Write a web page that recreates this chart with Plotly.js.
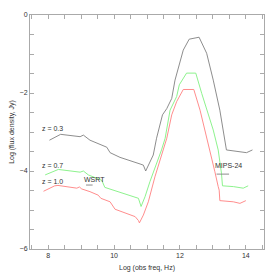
<!DOCTYPE html>
<html>
<head>
<meta charset="utf-8">
<script src="https://cdn.plot.ly/plotly-3.0.1.min.js"></script>
<style>html,body{margin:0;padding:0;background:#fff;}#chart{width:279px;height:279px;}</style>
</head>
<body>
<div id="chart"></div>
<script>
// z = 0.3 (black)
const x03 = [8.04, 8.38, 8.97, 9.07, 9.27, 9.78, 9.88, 10.18, 10.79, 10.89, 10.96, 11.19, 11.29, 11.47, 11.6, 11.75, 11.85, 12.1, 12.28, 12.58, 12.81, 13.01, 13.21, 13.41, 14.02, 14.2];
const y03 = [-3.21, -3.06, -3.12, -3.08, -3.21, -3.39, -3.53, -3.65, -3.82, -3.85, -4.0, -3.59, -3.16, -2.56, -2.4, -2.14, -1.67, -0.9, -0.62, -0.57, -0.98, -1.67, -2.44, -3.46, -3.53, -3.46];
// z = 0.7 (green)
const x07 = [7.91, 8.31, 8.97, 9.07, 9.22, 9.63, 9.72, 10.18, 10.74, 10.82, 10.94, 11.09, 11.34, 11.44, 11.55, 11.7, 11.9, 11.98, 12.2, 12.48, 12.66, 12.81, 13.01, 13.16, 13.26, 13.29, 13.62, 13.92, 14.07];
const y07 = [-4.10, -3.96, -4.03, -4.0, -4.10, -4.24, -4.42, -4.55, -4.70, -4.91, -4.66, -4.27, -3.72, -3.46, -3.16, -2.44, -2.09, -1.79, -1.49, -1.49, -2.01, -2.44, -2.95, -3.46, -4.06, -4.38, -4.40, -4.44, -4.38];
// z = 1.0 (red)
const x10 = [7.86, 8.2, 8.3, 8.87, 8.95, 9.02, 9.27, 9.52, 9.6, 9.88, 10.03, 10.58, 10.64, 10.74, 10.77, 10.89, 11.04, 11.24, 11.44, 11.6, 11.75, 11.9, 12.1, 12.42, 12.61, 12.76, 12.91, 13.06, 13.16, 13.19, 13.21, 13.62, 13.82, 14.0];
const y10 = [-4.52, -4.38, -4.37, -4.44, -4.41, -4.46, -4.53, -4.62, -4.70, -4.79, -4.98, -5.15, -5.17, -5.27, -5.33, -5.13, -4.79, -4.15, -3.63, -3.16, -2.56, -2.22, -1.91, -1.91, -2.44, -2.95, -3.46, -4.02, -4.40, -4.49, -4.76, -4.79, -4.83, -4.76];
// survey limits
const wsrtX = [9.15, 9.35];
const wsrtY = [-4.36, -4.36];
const mipsX = [13.11, 13.49];
const mipsY = [-4.08, -4.08];
// labels
const labelText = ["z = 0.3", "z = 0.7", "z = 1.0", "WSRT", "MIPS-24"];
const labelX = [8.12, 8.13, 8.13, 9.41, 13.48];
const labelY = [-2.92, -3.86, -4.27, -4.21, -3.86];

const lineStyle = (c) => ({color: c, width: 0.9});
const traces = [
  {x: x03, y: y03, mode: 'lines', line: lineStyle('#808080'), hoverinfo: 'skip'},
  {x: x07, y: y07, mode: 'lines', line: lineStyle('#80f080'), hoverinfo: 'skip'},
  {x: x10, y: y10, mode: 'lines', line: lineStyle('#ff8080'), hoverinfo: 'skip'},
  {x: wsrtX, y: wsrtY, mode: 'lines', line: lineStyle('#808080'), hoverinfo: 'skip'},
  {x: mipsX, y: mipsY, mode: 'lines', line: lineStyle('#808080'), hoverinfo: 'skip'}
];
const fontFam = 'Liberation Sans, Arial, sans-serif';
const annotations = labelText.map((t, i) => ({
  x: labelX[i], y: labelY[i], text: t, showarrow: false,
  xanchor: 'center', yanchor: 'middle',
  font: {family: fontFam, size: 7, color: '#333'}
}));
const axisCommon = {
  showline: true, linecolor: '#aaa', linewidth: 1, mirror: 'allticks',
  ticks: 'inside', ticklen: 4, tickcolor: '#aaa', tickwidth: 1,
  showgrid: false, zeroline: false,
  tickfont: {family: fontFam, size: 7, color: '#333'},
  minor: {dtick: 0.5, ticks: 'inside', ticklen: 4, tickcolor: '#aaa', showgrid: false}
};
const layout = {
  width: 279, height: 279,
  margin: {l: 30, r: 15, t: 15, b: 30},
  paper_bgcolor: '#fff', plot_bgcolor: '#fff',
  showlegend: false,
  xaxis: Object.assign({}, axisCommon, {
    range: [7.45, 14.55], tick0: 8, dtick: 2,
    title: {text: 'Log (obs freq, Hz)', font: {family: fontFam, size: 7, color: '#333'}, standoff: 6}
  }),
  yaxis: Object.assign({}, axisCommon, {
    range: [-6, 0], tick0: 0, dtick: 2,
    title: {text: 'Log (flux density, Jy)', font: {family: fontFam, size: 7, color: '#333'}, standoff: 4}
  }),
  annotations: annotations
};
Plotly.newPlot('chart', traces, layout, {staticPlot: true, displayModeBar: false});
</script>
</body>
</html>
